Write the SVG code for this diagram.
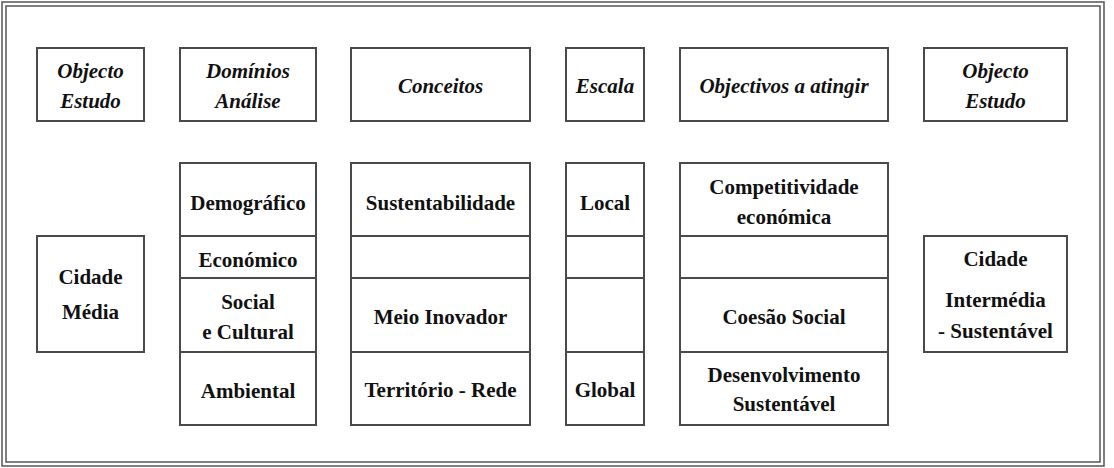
<svg xmlns="http://www.w3.org/2000/svg" width="1114" height="468" viewBox="0 0 1114 468">
<style>
.frame{fill:none;stroke:#555;stroke-width:1.5}
.box{fill:#fff;stroke:#4a4a4a;stroke-width:2}
.div{stroke:#4a4a4a;stroke-width:2}
text{font-family:'Liberation Serif','Times New Roman','DejaVu Serif',serif;font-weight:bold;font-size:21px;fill:#111;text-anchor:middle}
.h{font-style:italic}
</style>
<rect x="0" y="0" width="1114" height="468" fill="#fff"/>
<g id="frame">
<rect class="frame" x="2" y="2" width="1102" height="464"/>
<rect class="frame" x="6" y="6" width="1094" height="456"/>
</g>
<g id="h1"><rect class="box" x="37" y="48" width="107" height="73"/><text class="h" x="90.5" y="78">Objecto</text><text class="h" x="90.5" y="108">Estudo</text></g>
<g id="h2"><rect class="box" x="180" y="48" width="136" height="73"/><text class="h" x="248" y="78">Domínios</text><text class="h" x="248" y="108">Análise</text></g>
<g id="h3"><rect class="box" x="351" y="48" width="179" height="73"/><text class="h" x="440.5" y="93">Conceitos</text></g>
<g id="h4"><rect class="box" x="566" y="48" width="78" height="73"/><text class="h" x="605" y="93">Escala</text></g>
<g id="h5"><rect class="box" x="680" y="48" width="208" height="73"/><text class="h" x="784" y="93">Objectivos a atingir</text></g>
<g id="h6"><rect class="box" x="924" y="48" width="143" height="73"/><text class="h" x="995.5" y="78">Objecto</text><text class="h" x="995.5" y="108">Estudo</text></g>
<g id="cidade-media"><rect class="box" x="37" y="236" width="107" height="116"/><text x="90.5" y="284">Cidade</text><text x="90.5" y="319">Média</text></g>
<g id="dominios">
<rect class="box" x="180" y="163" width="136" height="262"/>
<line class="div" x1="180" y1="236" x2="316" y2="236"/><line class="div" x1="180" y1="278" x2="316" y2="278"/><line class="div" x1="180" y1="352" x2="316" y2="352"/>
<text x="248" y="210">Demográfico</text>
<text x="248" y="267">Económico</text>
<text x="248" y="309">Social</text><text x="248" y="339">e Cultural</text>
<text x="248" y="398">Ambiental</text>
</g>
<g id="conceitos">
<rect class="box" x="351" y="163" width="179" height="262"/>
<line class="div" x1="351" y1="236" x2="530" y2="236"/><line class="div" x1="351" y1="278" x2="530" y2="278"/><line class="div" x1="351" y1="352" x2="530" y2="352"/>
<text x="440.5" y="210">Sustentabilidade</text>
<text x="440.5" y="324">Meio Inovador</text>
<text x="440.5" y="397">Território - Rede</text>
</g>
<g id="escala">
<rect class="box" x="566" y="163" width="78" height="262"/>
<line class="div" x1="566" y1="236" x2="644" y2="236"/><line class="div" x1="566" y1="278" x2="644" y2="278"/><line class="div" x1="566" y1="352" x2="644" y2="352"/>
<text x="605" y="210">Local</text>
<text x="605" y="397">Global</text>
</g>
<g id="objectivos">
<rect class="box" x="680" y="163" width="208" height="262"/>
<line class="div" x1="680" y1="236" x2="888" y2="236"/><line class="div" x1="680" y1="278" x2="888" y2="278"/><line class="div" x1="680" y1="352" x2="888" y2="352"/>
<text x="784" y="194">Competitividade</text><text x="784" y="224">económica</text>
<text x="784" y="324">Coesão Social</text>
<text x="784" y="382">Desenvolvimento</text><text x="784" y="411">Sustentável</text>
</g>
<g id="cidade-intermedia"><rect class="box" x="924" y="236" width="143" height="116"/><text x="995.5" y="266">Cidade</text><text x="995.5" y="307">Intermédia</text><text x="995.5" y="338">- Sustentável</text></g>
<g id="connectors"></g>
</svg>
